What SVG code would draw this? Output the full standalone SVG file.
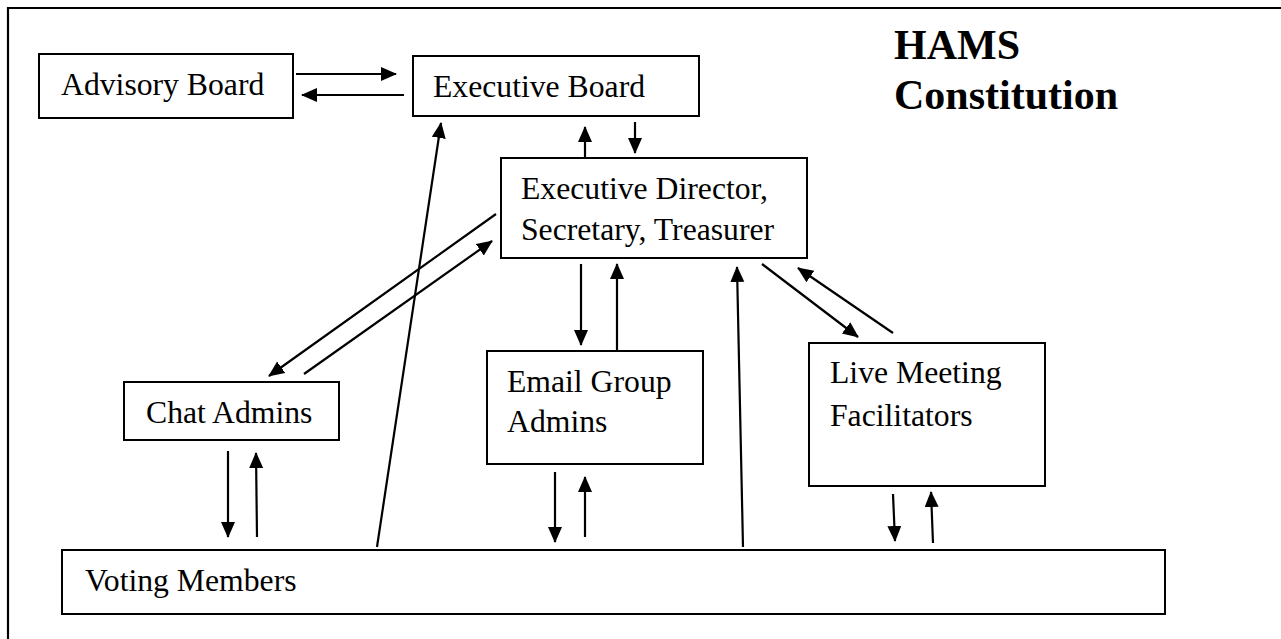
<svg xmlns="http://www.w3.org/2000/svg" width="1281" height="639" viewBox="0 0 1281 639">
<style>
.box{fill:#fff;stroke:#000;stroke-width:2}
.lbl{font-family:"Liberation Serif","Times New Roman",serif;font-size:31.7px;fill:#000}
.title{font-family:"Liberation Serif","Times New Roman",serif;font-size:42px;font-weight:bold;fill:#000}
.c{stroke:#000;stroke-width:2.2;fill:none}
.a{marker-end:url(#ah)}
</style>
<defs>
<marker id="ah" markerUnits="userSpaceOnUse" markerWidth="18" markerHeight="16" refX="15" refY="7" orient="auto">
<path d="M0,0 L16,7 L0,14 z" fill="#000"/>
</marker>
</defs>
<rect width="1281" height="639" fill="#fff"/>
<path d="M8,645 V8 H1290" fill="none" stroke="#000" stroke-width="2.2"/>
<g id="title">
<text class="title" x="894" y="59">HAMS</text>
<text class="title" x="894" y="109">Constitution</text>
</g>
<g id="advisory-board">
<rect class="box" x="39" y="54" width="254" height="64"/>
<text class="lbl" x="61" y="95">Advisory Board</text>
</g>
<g id="executive-board">
<rect class="box" x="413" y="56" width="286" height="60"/>
<text class="lbl" x="433" y="97">Executive Board</text>
</g>
<g id="executive-director">
<rect class="box" x="501" y="158" width="306" height="100"/>
<text class="lbl" x="521" y="199">Executive Director,</text>
<text class="lbl" x="521" y="240">Secretary, Treasurer</text>
</g>
<g id="chat-admins">
<rect class="box" x="124" y="382" width="215" height="58"/>
<text class="lbl" x="146" y="423">Chat Admins</text>
</g>
<g id="email-group-admins">
<rect class="box" x="487" y="351" width="216" height="113"/>
<text class="lbl" x="507" y="392">Email Group</text>
<text class="lbl" x="507" y="432">Admins</text>
</g>
<g id="live-meeting-facilitators">
<rect class="box" x="809" y="343" width="236" height="143"/>
<text class="lbl" x="830" y="383">Live Meeting</text>
<text class="lbl" x="830" y="426">Facilitators</text>
</g>
<g id="voting-members">
<rect class="box" x="62" y="550" width="1103" height="64"/>
<text class="lbl" x="85" y="591">Voting Members</text>
</g>
<g id="connectors">
<line class="c a" x1="296" y1="74" x2="396" y2="74"/>
<line class="c a" x1="404" y1="95" x2="302" y2="95"/>
<line class="c a" x1="585" y1="158" x2="585" y2="127"/>
<line class="c a" x1="635" y1="122" x2="635" y2="153"/>
<line class="c a" x1="377" y1="547" x2="441" y2="123"/>
<line class="c a" x1="496" y1="214" x2="269" y2="376"/>
<line class="c a" x1="304" y1="374" x2="492" y2="241"/>
<line class="c a" x1="581" y1="264" x2="581" y2="345"/>
<line class="c a" x1="617" y1="350" x2="617" y2="264"/>
<line class="c a" x1="743" y1="547" x2="737" y2="267"/>
<line class="c a" x1="762" y1="264" x2="858" y2="337"/>
<line class="c a" x1="893" y1="333" x2="798" y2="268"/>
<line class="c a" x1="228" y1="451" x2="228" y2="537"/>
<line class="c a" x1="257" y1="537" x2="256" y2="453"/>
<line class="c a" x1="555" y1="472" x2="555" y2="542"/>
<line class="c a" x1="585" y1="537" x2="585" y2="477"/>
<line class="c a" x1="893" y1="494" x2="895" y2="541"/>
<line class="c a" x1="933" y1="543" x2="931" y2="492"/>
</g>
</svg>
